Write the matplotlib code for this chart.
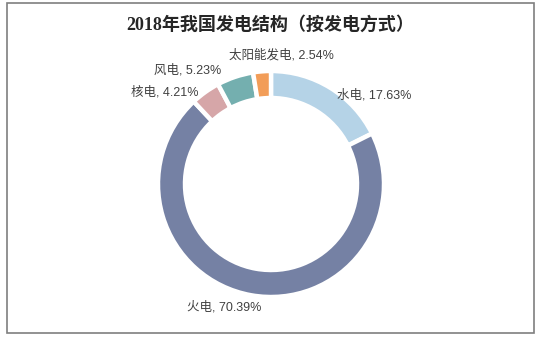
import matplotlib
matplotlib.use("Agg")
import matplotlib.pyplot as plt
from matplotlib.patches import Rectangle

plt.rcParams['font.family'] = ['Liberation Sans', 'Noto Sans CJK SC', 'DejaVu Sans']

title = "2018年我国发电结构（按发电方式）"
categories = ["水电", "火电", "核电", "风电", "太阳能发电"]
values = [17.63, 70.39, 4.21, 5.23, 2.54]
colors = ["#B5D3E7", "#7581A4", "#D6A6A8", "#74AFAF", "#F29D58"]

W, H = 544, 338
fig = plt.figure(figsize=(W / 100, H / 100), dpi=100)
ax = fig.add_axes([0, 0, 1, 1])

cx, cy, R, ring = 271, H - 184, 113, 27
ax.pie(values, colors=colors, startangle=90, counterclock=False,
       center=(cx, cy), radius=R, frame=True,
       wedgeprops=dict(width=ring, edgecolor='white', linewidth=3.2))
ax.set_xlim(0, W)
ax.set_ylim(0, H)
ax.set_aspect('equal')
ax.axis('off')

# label positions (pixel, y measured from top)
label_pos = [(374, 95), (224, 307), (165, 92), (188, 70), (281, 55)]
for cat, v, (lx, ly) in zip(categories, values, label_pos):
    ax.text(lx, H - ly, f"{cat}, {v:.2f}%", ha='center', va='center',
            fontsize=9, color='#404040')

ax.text(270, H - 25, title, ha='center', va='center', fontsize=13,
        fontweight='bold', color='#262626',
        family=['Liberation Serif', 'Noto Sans CJK SC'])

ax.add_patch(Rectangle((7, H - 333), 527, 330, fill=False,
                       edgecolor='#7f7f7f', linewidth=1.2))

fig.savefig("out.png", dpi=100)
